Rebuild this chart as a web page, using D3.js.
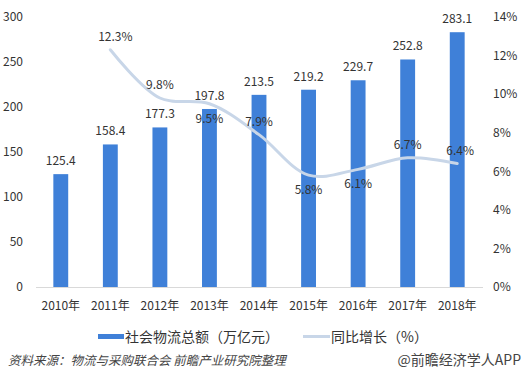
<html>
<head>
<meta charset="utf-8">
<script src="https://cdn.jsdelivr.net/npm/d3@7"></script>
<style>
  body { margin: 0; background: #fff; }
  text { font-family: "Noto Sans CJK SC", "Open Sans", sans-serif; }
</style>
</head>
<body>
<div id="chart"></div>
<script>
var years = ["2010年", "2011年", "2012年", "2013年", "2014年", "2015年", "2016年", "2017年", "2018年"];
var totals = [125.4, 158.4, 177.3, 197.8, 213.5, 219.2, 229.7, 252.8, 283.1];
var growth = [null, 12.3, 9.8, 9.5, 7.9, 5.8, 6.1, 6.7, 6.4];
// label side for growth labels: -1 above, 1 below
var growthSide = [0, -1, -1, 1, -1, 1, 1, -1, -1];
var leftTicks = [0, 50, 100, 150, 200, 250, 300];
var rightTicks = [0, 2, 4, 6, 8, 10, 12, 14];

var W = 526, H = 385;
var svg = d3.select("#chart").append("svg").attr("width", W).attr("height", H);

var x = d3.scaleBand().domain(years).range([36, 482]).paddingInner(0.7).paddingOuter(0.35);
var y = d3.scaleLinear().domain([0, 300]).range([287, 17]);
var y2 = d3.scaleLinear().domain([0, 14]).range([287, 17]);

var barColor = "#3f80d8", lineColor = "#c8d6e8", txt = "#333";

// left axis labels
svg.append("g").attr("transform", "translate(23,0)")
  .call(d3.axisLeft(y).tickValues(leftTicks).tickSize(0).tickPadding(0))
  .call(function (g) { g.select(".domain").remove(); })
  .selectAll("text").attr("font-size", 12).attr("fill", txt)
  .style("font-family", "'Noto Sans CJK SC', sans-serif");

// right axis labels
svg.append("g").attr("transform", "translate(493,0)")
  .call(d3.axisRight(y2).tickValues(rightTicks).tickSize(0).tickPadding(0).tickFormat(function (d) { return d + "%"; }))
  .call(function (g) { g.select(".domain").remove(); })
  .selectAll("text").attr("font-size", 12).attr("fill", txt)
  .style("font-family", "'Noto Sans CJK SC', sans-serif");

// bars
svg.selectAll("rect.bar").data(totals).enter().append("rect")
  .attr("class", "bar")
  .attr("x", function (d, i) { return x(years[i]); })
  .attr("y", function (d) { return y(d); })
  .attr("width", x.bandwidth())
  .attr("height", function (d) { return y(0) - y(d); })
  .attr("fill", barColor);

// x axis line and labels
svg.append("g").attr("transform", "translate(0,287)")
  .call(d3.axisBottom(x).tickSize(0).tickPadding(14))
  .call(function (g) {
    g.select(".domain").attr("stroke", "#d9d9d9").attr("d", "M36,0.5H483");
  })
  .selectAll("text").attr("font-size", 12).attr("fill", txt)
  .style("font-family", "'Noto Sans CJK SC', sans-serif");

// bar value labels
svg.selectAll("text.barlab").data(totals).enter().append("text")
  .attr("class", "barlab")
  .attr("x", function (d, i) { return x(years[i]) + x.bandwidth() / 2; })
  .attr("y", function (d) { return y(d) - 9; })
  .attr("text-anchor", "middle")
  .attr("font-size", 12).attr("fill", txt)
  .text(function (d) { return d.toFixed(1); });

// growth line (smoothed like excel)
var pts = growth.map(function (g, i) { return { i: i, v: g }; }).filter(function (d) { return d.v !== null; });
var line = d3.line()
  .x(function (d) { return x(years[d.i]) + x.bandwidth() / 2; })
  .y(function (d) { return y2(d.v); })
  .curve(d3.curveCatmullRom.alpha(0.5));
svg.append("path").datum(pts).attr("d", line)
  .attr("fill", "none").attr("stroke", lineColor).attr("stroke-width", 3)
  .attr("stroke-linecap", "round");

svg.selectAll("text.glab").data(pts).enter().append("text")
  .attr("class", "glab")
  .attr("x", function (d) { return x(years[d.i]) + x.bandwidth() / 2 + (d.i === 1 ? 5 : 0) + (d.i === 8 ? 3 : 0); })
  .attr("y", function (d) { return y2(d.v) + (growthSide[d.i] < 0 ? -9 : 19); })
  .attr("text-anchor", "middle")
  .attr("font-size", 12).attr("fill", txt)
  .text(function (d) { return d.v.toFixed(1) + "%"; });

// legend
var lg = svg.append("g");
lg.append("rect").attr("x", 98).attr("y", 334).attr("width", 26).attr("height", 5).attr("fill", barColor);
lg.append("text").attr("x", 125).attr("y", 342).attr("font-size", 14).attr("fill", txt).text("社会物流总额（万亿元）");
lg.append("line").attr("x1", 303).attr("x2", 330).attr("y1", 336.5).attr("y2", 336.5)
  .attr("stroke", lineColor).attr("stroke-width", 3);
lg.append("text").attr("x", 331).attr("y", 342).attr("font-size", 14).attr("fill", txt).text("同比增长（%）");

// footer
svg.append("text").attr("x", 8).attr("y", 365).attr("font-size", 12.5).attr("fill", "#444")
  .attr("font-style", "italic").text("资料来源：物流与采购联合会  前瞻产业研究院整理");
svg.append("text").attr("x", 521).attr("y", 365).attr("text-anchor", "end").attr("font-size", 14).attr("fill", "#444")
  .text("@前瞻经济学人APP");
</script>
</body>
</html>
